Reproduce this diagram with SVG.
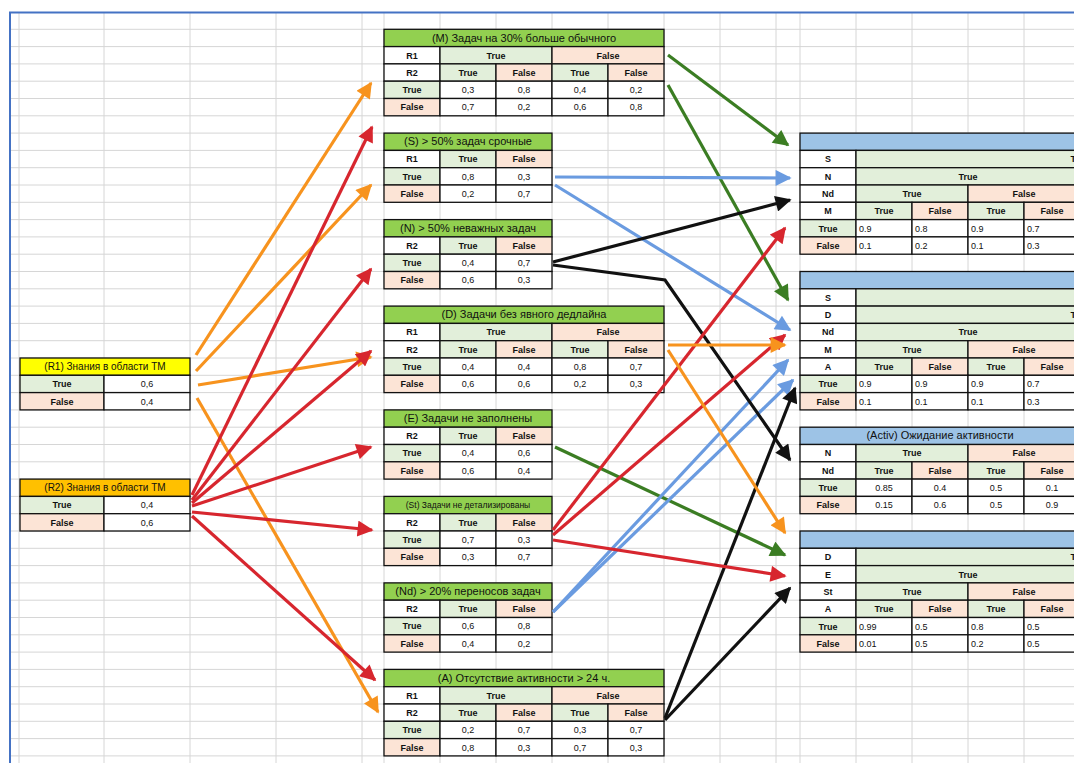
<svg xmlns="http://www.w3.org/2000/svg" width="1074" height="763" viewBox="0 0 1074 763">
<style>
text{font-family:"Liberation Sans","DejaVu Sans",sans-serif;fill:#111}
.c rect{stroke:#111;stroke-width:1.3}
.t{fill:#92d050}.w{fill:#fff}.g{fill:#e2efda}.p{fill:#fce4d6}.y{fill:#ffff00}.o{fill:#ffc000}.b{fill:#9dc3e6}
.ttl{font-size:10px;text-anchor:middle}
.tm{font-size:11px;text-anchor:middle}
.h{font-size:9px;font-weight:bold;text-anchor:middle}
.v{font-size:9px;text-anchor:middle}
.l{font-size:9px;text-anchor:start}
.grid line{stroke:#d6d6d6;stroke-width:1}
#links line,#links polyline{stroke-width:3.2;fill:none}
.ko{stroke:#f7931e}.kr{stroke:#d7262e}.kg{stroke:#3b7d23}.kb{stroke:#6a9be0}.kk{stroke:#111}
</style>
<defs>
<marker id="mo" viewBox="0 0 10 10" refX="9" refY="5" markerWidth="5.5" markerHeight="5" markerUnits="strokeWidth" orient="auto"><path d="M0,0L10,5L0,10z" fill="#f7931e"/></marker>
<marker id="mr" viewBox="0 0 10 10" refX="9" refY="5" markerWidth="5.5" markerHeight="5" markerUnits="strokeWidth" orient="auto"><path d="M0,0L10,5L0,10z" fill="#d7262e"/></marker>
<marker id="mg" viewBox="0 0 10 10" refX="9" refY="5" markerWidth="5.5" markerHeight="5" markerUnits="strokeWidth" orient="auto"><path d="M0,0L10,5L0,10z" fill="#3b7d23"/></marker>
<marker id="mb" viewBox="0 0 10 10" refX="9" refY="5" markerWidth="5.5" markerHeight="5" markerUnits="strokeWidth" orient="auto"><path d="M0,0L10,5L0,10z" fill="#6a9be0"/></marker>
<marker id="mk" viewBox="0 0 10 10" refX="9" refY="5" markerWidth="5.5" markerHeight="5" markerUnits="strokeWidth" orient="auto"><path d="M0,0L10,5L0,10z" fill="#111"/></marker>
</defs>
<rect x="0" y="0" width="1074" height="763" fill="#fff"/>
<!-- sheet grid -->
<g class="grid">
<line x1="19" y1="12" x2="19" y2="763"/><line x1="104" y1="12" x2="104" y2="763"/><line x1="190" y1="12" x2="190" y2="763"/><line x1="276" y1="12" x2="276" y2="763"/><line x1="362" y1="12" x2="362" y2="763"/><line x1="384" y1="12" x2="384" y2="763"/><line x1="440" y1="12" x2="440" y2="763"/><line x1="496" y1="12" x2="496" y2="763"/><line x1="552" y1="12" x2="552" y2="763"/><line x1="608" y1="12" x2="608" y2="763"/><line x1="664" y1="12" x2="664" y2="763"/><line x1="720" y1="12" x2="720" y2="763"/><line x1="776" y1="12" x2="776" y2="763"/><line x1="800" y1="12" x2="800" y2="763"/><line x1="856" y1="12" x2="856" y2="763"/><line x1="912" y1="12" x2="912" y2="763"/><line x1="968" y1="12" x2="968" y2="763"/><line x1="1024" y1="12" x2="1024" y2="763"/>
<line x1="10" y1="29.3" x2="1074" y2="29.3"/><line x1="10" y1="46.6" x2="1074" y2="46.6"/><line x1="10" y1="63.9" x2="1074" y2="63.9"/><line x1="10" y1="81.2" x2="1074" y2="81.2"/><line x1="10" y1="98.5" x2="1074" y2="98.5"/><line x1="10" y1="115.8" x2="1074" y2="115.8"/><line x1="10" y1="133.1" x2="1074" y2="133.1"/><line x1="10" y1="150.4" x2="1074" y2="150.4"/><line x1="10" y1="167.7" x2="1074" y2="167.7"/><line x1="10" y1="185" x2="1074" y2="185"/><line x1="10" y1="202.3" x2="1074" y2="202.3"/><line x1="10" y1="219.6" x2="1074" y2="219.6"/><line x1="10" y1="236.9" x2="1074" y2="236.9"/><line x1="10" y1="254.2" x2="1074" y2="254.2"/><line x1="10" y1="271.5" x2="1074" y2="271.5"/><line x1="10" y1="288.8" x2="1074" y2="288.8"/><line x1="10" y1="306.1" x2="1074" y2="306.1"/><line x1="10" y1="323.4" x2="1074" y2="323.4"/><line x1="10" y1="340.7" x2="1074" y2="340.7"/><line x1="10" y1="358" x2="1074" y2="358"/><line x1="10" y1="375.3" x2="1074" y2="375.3"/><line x1="10" y1="392.6" x2="1074" y2="392.6"/><line x1="10" y1="409.9" x2="1074" y2="409.9"/><line x1="10" y1="427.2" x2="1074" y2="427.2"/><line x1="10" y1="444.5" x2="1074" y2="444.5"/><line x1="10" y1="461.8" x2="1074" y2="461.8"/><line x1="10" y1="479.1" x2="1074" y2="479.1"/><line x1="10" y1="496.4" x2="1074" y2="496.4"/><line x1="10" y1="513.7" x2="1074" y2="513.7"/><line x1="10" y1="531" x2="1074" y2="531"/><line x1="10" y1="548.3" x2="1074" y2="548.3"/><line x1="10" y1="565.6" x2="1074" y2="565.6"/><line x1="10" y1="582.9" x2="1074" y2="582.9"/><line x1="10" y1="600.2" x2="1074" y2="600.2"/><line x1="10" y1="617.5" x2="1074" y2="617.5"/><line x1="10" y1="634.8" x2="1074" y2="634.8"/><line x1="10" y1="652.1" x2="1074" y2="652.1"/><line x1="10" y1="669.4" x2="1074" y2="669.4"/><line x1="10" y1="686.7" x2="1074" y2="686.7"/><line x1="10" y1="704" x2="1074" y2="704"/><line x1="10" y1="721.3" x2="1074" y2="721.3"/><line x1="10" y1="738.6" x2="1074" y2="738.6"/><line x1="10" y1="755.9" x2="1074" y2="755.9"/>
</g>
<rect x="10" y="12.5" width="1070" height="760" fill="none" stroke="#4472c4" stroke-width="2"/>

<!-- root nodes -->
<g id="R1" class="c" transform="translate(20,358)">
<rect class="y" x="0" y="0" width="170" height="17.3"/><text class="ttl" x="85" y="12">(R1) Знания в области ТМ</text>
<rect class="g" x="0" y="17.3" width="84" height="17.3"/><text class="h" x="42" y="29.3">True</text>
<rect class="w" x="84" y="17.3" width="86" height="17.3"/><text class="v" x="127" y="29.3">0,6</text>
<rect class="p" x="0" y="34.6" width="84" height="17.3"/><text class="h" x="42" y="46.6">False</text>
<rect class="w" x="84" y="34.6" width="86" height="17.3"/><text class="v" x="127" y="46.6">0,4</text>
</g>
<g id="R2" class="c" transform="translate(20,479.1)">
<rect class="o" x="0" y="0" width="170" height="17.3"/><text class="ttl" x="85" y="12">(R2) Знания в области ТМ</text>
<rect class="g" x="0" y="17.3" width="84" height="17.3"/><text class="h" x="42" y="29.3">True</text>
<rect class="w" x="84" y="17.3" width="86" height="17.3"/><text class="v" x="127" y="29.3">0,4</text>
<rect class="p" x="0" y="34.6" width="84" height="17.3"/><text class="h" x="42" y="46.6">False</text>
<rect class="w" x="84" y="34.6" width="86" height="17.3"/><text class="v" x="127" y="46.6">0,6</text>
</g>

<!-- middle nodes -->
<g id="M" class="c" transform="translate(384,29.3)">
<rect class="t" x="0" y="0" width="280" height="17.3"/><text class="tm" x="140" y="12.3">(M) Задач на 30% больше обычного</text>
<rect class="w" x="0" y="17.3" width="56" height="17.3"/><text class="h" x="28" y="29.3">R1</text>
<rect class="g" x="56" y="17.3" width="112" height="17.3"/><text class="h" x="112" y="29.3">True</text>
<rect class="p" x="168" y="17.3" width="112" height="17.3"/><text class="h" x="224" y="29.3">False</text>
<rect class="w" x="0" y="34.6" width="56" height="17.3"/><text class="h" x="28" y="46.6">R2</text>
<rect class="g" x="56" y="34.6" width="56" height="17.3"/><text class="h" x="84" y="46.6">True</text>
<rect class="p" x="112" y="34.6" width="56" height="17.3"/><text class="h" x="140" y="46.6">False</text>
<rect class="g" x="168" y="34.6" width="56" height="17.3"/><text class="h" x="196" y="46.6">True</text>
<rect class="p" x="224" y="34.6" width="56" height="17.3"/><text class="h" x="252" y="46.6">False</text>
<rect class="g" x="0" y="51.9" width="56" height="17.3"/><text class="h" x="28" y="63.9">True</text>
<rect class="w" x="56" y="51.9" width="56" height="17.3"/><text class="v" x="84" y="63.9">0,3</text>
<rect class="w" x="112" y="51.9" width="56" height="17.3"/><text class="v" x="140" y="63.9">0,8</text>
<rect class="w" x="168" y="51.9" width="56" height="17.3"/><text class="v" x="196" y="63.9">0,4</text>
<rect class="w" x="224" y="51.9" width="56" height="17.3"/><text class="v" x="252" y="63.9">0,2</text>
<rect class="p" x="0" y="69.2" width="56" height="17.3"/><text class="h" x="28" y="81.2">False</text>
<rect class="w" x="56" y="69.2" width="56" height="17.3"/><text class="v" x="84" y="81.2">0,7</text>
<rect class="w" x="112" y="69.2" width="56" height="17.3"/><text class="v" x="140" y="81.2">0,2</text>
<rect class="w" x="168" y="69.2" width="56" height="17.3"/><text class="v" x="196" y="81.2">0,6</text>
<rect class="w" x="224" y="69.2" width="56" height="17.3"/><text class="v" x="252" y="81.2">0,8</text>
</g>
<g id="S" class="c" transform="translate(384,133.1)">
<rect class="t" x="0" y="0" width="168" height="17.3"/><text class="tm" x="84" y="12.3">(S) &gt; 50% задач срочные</text>
<rect class="w" x="0" y="17.3" width="56" height="17.3"/><text class="h" x="28" y="29.3">R1</text>
<rect class="g" x="56" y="17.3" width="56" height="17.3"/><text class="h" x="84" y="29.3">True</text>
<rect class="p" x="112" y="17.3" width="56" height="17.3"/><text class="h" x="140" y="29.3">False</text>
<rect class="g" x="0" y="34.6" width="56" height="17.3"/><text class="h" x="28" y="46.6">True</text>
<rect class="w" x="56" y="34.6" width="56" height="17.3"/><text class="v" x="84" y="46.6">0,8</text>
<rect class="w" x="112" y="34.6" width="56" height="17.3"/><text class="v" x="140" y="46.6">0,3</text>
<rect class="p" x="0" y="51.9" width="56" height="17.3"/><text class="h" x="28" y="63.9">False</text>
<rect class="w" x="56" y="51.9" width="56" height="17.3"/><text class="v" x="84" y="63.9">0,2</text>
<rect class="w" x="112" y="51.9" width="56" height="17.3"/><text class="v" x="140" y="63.9">0,7</text>
</g>
<g id="N" class="c" transform="translate(384,219.6)">
<rect class="t" x="0" y="0" width="168" height="17.3"/><text class="tm" x="84" y="12.3">(N) &gt; 50% неважных задач</text>
<rect class="w" x="0" y="17.3" width="56" height="17.3"/><text class="h" x="28" y="29.3">R2</text>
<rect class="g" x="56" y="17.3" width="56" height="17.3"/><text class="h" x="84" y="29.3">True</text>
<rect class="p" x="112" y="17.3" width="56" height="17.3"/><text class="h" x="140" y="29.3">False</text>
<rect class="g" x="0" y="34.6" width="56" height="17.3"/><text class="h" x="28" y="46.6">True</text>
<rect class="w" x="56" y="34.6" width="56" height="17.3"/><text class="v" x="84" y="46.6">0,4</text>
<rect class="w" x="112" y="34.6" width="56" height="17.3"/><text class="v" x="140" y="46.6">0,7</text>
<rect class="p" x="0" y="51.9" width="56" height="17.3"/><text class="h" x="28" y="63.9">False</text>
<rect class="w" x="56" y="51.9" width="56" height="17.3"/><text class="v" x="84" y="63.9">0,6</text>
<rect class="w" x="112" y="51.9" width="56" height="17.3"/><text class="v" x="140" y="63.9">0,3</text>
</g>
<g id="D" class="c" transform="translate(384,306.1)">
<rect class="t" x="0" y="0" width="280" height="17.3"/><text class="tm" x="140" y="12.3">(D) Задачи без явного дедлайна</text>
<rect class="w" x="0" y="17.3" width="56" height="17.3"/><text class="h" x="28" y="29.3">R1</text>
<rect class="g" x="56" y="17.3" width="112" height="17.3"/><text class="h" x="112" y="29.3">True</text>
<rect class="p" x="168" y="17.3" width="112" height="17.3"/><text class="h" x="224" y="29.3">False</text>
<rect class="w" x="0" y="34.6" width="56" height="17.3"/><text class="h" x="28" y="46.6">R2</text>
<rect class="g" x="56" y="34.6" width="56" height="17.3"/><text class="h" x="84" y="46.6">True</text>
<rect class="p" x="112" y="34.6" width="56" height="17.3"/><text class="h" x="140" y="46.6">False</text>
<rect class="g" x="168" y="34.6" width="56" height="17.3"/><text class="h" x="196" y="46.6">True</text>
<rect class="p" x="224" y="34.6" width="56" height="17.3"/><text class="h" x="252" y="46.6">False</text>
<rect class="g" x="0" y="51.9" width="56" height="17.3"/><text class="h" x="28" y="63.9">True</text>
<rect class="w" x="56" y="51.9" width="56" height="17.3"/><text class="v" x="84" y="63.9">0,4</text>
<rect class="w" x="112" y="51.9" width="56" height="17.3"/><text class="v" x="140" y="63.9">0,4</text>
<rect class="w" x="168" y="51.9" width="56" height="17.3"/><text class="v" x="196" y="63.9">0,8</text>
<rect class="w" x="224" y="51.9" width="56" height="17.3"/><text class="v" x="252" y="63.9">0,7</text>
<rect class="p" x="0" y="69.2" width="56" height="17.3"/><text class="h" x="28" y="81.2">False</text>
<rect class="w" x="56" y="69.2" width="56" height="17.3"/><text class="v" x="84" y="81.2">0,6</text>
<rect class="w" x="112" y="69.2" width="56" height="17.3"/><text class="v" x="140" y="81.2">0,6</text>
<rect class="w" x="168" y="69.2" width="56" height="17.3"/><text class="v" x="196" y="81.2">0,2</text>
<rect class="w" x="224" y="69.2" width="56" height="17.3"/><text class="v" x="252" y="81.2">0,3</text>
</g>
<g id="E" class="c" transform="translate(384,409.9)">
<rect class="t" x="0" y="0" width="168" height="17.3"/><text class="tm" x="84" y="12.3">(E) Задачи не заполнены</text>
<rect class="w" x="0" y="17.3" width="56" height="17.3"/><text class="h" x="28" y="29.3">R2</text>
<rect class="g" x="56" y="17.3" width="56" height="17.3"/><text class="h" x="84" y="29.3">True</text>
<rect class="p" x="112" y="17.3" width="56" height="17.3"/><text class="h" x="140" y="29.3">False</text>
<rect class="g" x="0" y="34.6" width="56" height="17.3"/><text class="h" x="28" y="46.6">True</text>
<rect class="w" x="56" y="34.6" width="56" height="17.3"/><text class="v" x="84" y="46.6">0,4</text>
<rect class="w" x="112" y="34.6" width="56" height="17.3"/><text class="v" x="140" y="46.6">0,6</text>
<rect class="p" x="0" y="51.9" width="56" height="17.3"/><text class="h" x="28" y="63.9">False</text>
<rect class="w" x="56" y="51.9" width="56" height="17.3"/><text class="v" x="84" y="63.9">0,6</text>
<rect class="w" x="112" y="51.9" width="56" height="17.3"/><text class="v" x="140" y="63.9">0,4</text>
</g>
<g id="St" class="c" transform="translate(384,496.4)">
<rect class="t" x="0" y="0" width="168" height="17.3"/><text class="ttl" x="84" y="12" style="font-size:8.5px">(St) Задачи не детализированы</text>
<rect class="w" x="0" y="17.3" width="56" height="17.3"/><text class="h" x="28" y="29.3">R2</text>
<rect class="g" x="56" y="17.3" width="56" height="17.3"/><text class="h" x="84" y="29.3">True</text>
<rect class="p" x="112" y="17.3" width="56" height="17.3"/><text class="h" x="140" y="29.3">False</text>
<rect class="g" x="0" y="34.6" width="56" height="17.3"/><text class="h" x="28" y="46.6">True</text>
<rect class="w" x="56" y="34.6" width="56" height="17.3"/><text class="v" x="84" y="46.6">0,7</text>
<rect class="w" x="112" y="34.6" width="56" height="17.3"/><text class="v" x="140" y="46.6">0,3</text>
<rect class="p" x="0" y="51.9" width="56" height="17.3"/><text class="h" x="28" y="63.9">False</text>
<rect class="w" x="56" y="51.9" width="56" height="17.3"/><text class="v" x="84" y="63.9">0,3</text>
<rect class="w" x="112" y="51.9" width="56" height="17.3"/><text class="v" x="140" y="63.9">0,7</text>
</g>
<g id="Nd" class="c" transform="translate(384,582.9)">
<rect class="t" x="0" y="0" width="168" height="17.3"/><text class="tm" x="84" y="12.3">(Nd) &gt; 20% переносов задач</text>
<rect class="w" x="0" y="17.3" width="56" height="17.3"/><text class="h" x="28" y="29.3">R2</text>
<rect class="g" x="56" y="17.3" width="56" height="17.3"/><text class="h" x="84" y="29.3">True</text>
<rect class="p" x="112" y="17.3" width="56" height="17.3"/><text class="h" x="140" y="29.3">False</text>
<rect class="g" x="0" y="34.6" width="56" height="17.3"/><text class="h" x="28" y="46.6">True</text>
<rect class="w" x="56" y="34.6" width="56" height="17.3"/><text class="v" x="84" y="46.6">0,6</text>
<rect class="w" x="112" y="34.6" width="56" height="17.3"/><text class="v" x="140" y="46.6">0,8</text>
<rect class="p" x="0" y="51.9" width="56" height="17.3"/><text class="h" x="28" y="63.9">False</text>
<rect class="w" x="56" y="51.9" width="56" height="17.3"/><text class="v" x="84" y="63.9">0,4</text>
<rect class="w" x="112" y="51.9" width="56" height="17.3"/><text class="v" x="140" y="63.9">0,2</text>
</g>
<g id="A" class="c" transform="translate(384,669.4)">
<rect class="t" x="0" y="0" width="280" height="17.3"/><text class="tm" x="140" y="12.3">(A) Отсутствие активности &gt; 24 ч.</text>
<rect class="w" x="0" y="17.3" width="56" height="17.3"/><text class="h" x="28" y="29.3">R1</text>
<rect class="g" x="56" y="17.3" width="112" height="17.3"/><text class="h" x="112" y="29.3">True</text>
<rect class="p" x="168" y="17.3" width="112" height="17.3"/><text class="h" x="224" y="29.3">False</text>
<rect class="w" x="0" y="34.6" width="56" height="17.3"/><text class="h" x="28" y="46.6">R2</text>
<rect class="g" x="56" y="34.6" width="56" height="17.3"/><text class="h" x="84" y="46.6">True</text>
<rect class="p" x="112" y="34.6" width="56" height="17.3"/><text class="h" x="140" y="46.6">False</text>
<rect class="g" x="168" y="34.6" width="56" height="17.3"/><text class="h" x="196" y="46.6">True</text>
<rect class="p" x="224" y="34.6" width="56" height="17.3"/><text class="h" x="252" y="46.6">False</text>
<rect class="g" x="0" y="51.9" width="56" height="17.3"/><text class="h" x="28" y="63.9">True</text>
<rect class="w" x="56" y="51.9" width="56" height="17.3"/><text class="v" x="84" y="63.9">0,2</text>
<rect class="w" x="112" y="51.9" width="56" height="17.3"/><text class="v" x="140" y="63.9">0,7</text>
<rect class="w" x="168" y="51.9" width="56" height="17.3"/><text class="v" x="196" y="63.9">0,3</text>
<rect class="w" x="224" y="51.9" width="56" height="17.3"/><text class="v" x="252" y="63.9">0,7</text>
<rect class="p" x="0" y="69.2" width="56" height="17.3"/><text class="h" x="28" y="81.2">False</text>
<rect class="w" x="56" y="69.2" width="56" height="17.3"/><text class="v" x="84" y="81.2">0,8</text>
<rect class="w" x="112" y="69.2" width="56" height="17.3"/><text class="v" x="140" y="81.2">0,3</text>
<rect class="w" x="168" y="69.2" width="56" height="17.3"/><text class="v" x="196" y="81.2">0,7</text>
<rect class="w" x="224" y="69.2" width="56" height="17.3"/><text class="v" x="252" y="81.2">0,3</text>
</g>

<!-- right-hand nodes -->
<g id="P1" class="c" transform="translate(800,133.1)">
<rect class="b" x="0" y="0" width="290" height="17.3"/>
<rect class="w" x="0" y="17.3" width="56" height="17.3"/><text class="h" x="28" y="29.3">S</text>
<rect class="g" x="56" y="17.3" width="234" height="17.3"/><text class="h" x="280" y="29.3">True</text>
<rect class="w" x="0" y="34.6" width="56" height="17.3"/><text class="h" x="28" y="46.6">N</text>
<rect class="g" x="56" y="34.6" width="234" height="17.3"/><text class="h" x="168" y="46.6">True</text>
<rect class="w" x="0" y="51.9" width="56" height="17.3"/><text class="h" x="28" y="63.9">Nd</text>
<rect class="g" x="56" y="51.9" width="112" height="17.3"/><text class="h" x="112" y="63.9">True</text>
<rect class="p" x="168" y="51.9" width="122" height="17.3"/><text class="h" x="224" y="63.9">False</text>
<rect class="w" x="0" y="69.2" width="56" height="17.3"/><text class="h" x="28" y="81.2">M</text>
<rect class="g" x="56" y="69.2" width="56" height="17.3"/><text class="h" x="84" y="81.2">True</text>
<rect class="p" x="112" y="69.2" width="56" height="17.3"/><text class="h" x="140" y="81.2">False</text>
<rect class="g" x="168" y="69.2" width="56" height="17.3"/><text class="h" x="196" y="81.2">True</text>
<rect class="p" x="224" y="69.2" width="56" height="17.3"/><text class="h" x="252" y="81.2">False</text>
<rect class="g" x="0" y="86.5" width="56" height="17.3"/><text class="h" x="28" y="98.5">True</text>
<rect class="w" x="56" y="86.5" width="56" height="17.3"/><text class="l" x="59" y="98.5">0.9</text>
<rect class="w" x="112" y="86.5" width="56" height="17.3"/><text class="l" x="115" y="98.5">0.8</text>
<rect class="w" x="168" y="86.5" width="56" height="17.3"/><text class="l" x="171" y="98.5">0.9</text>
<rect class="w" x="224" y="86.5" width="56" height="17.3"/><text class="l" x="227" y="98.5">0.7</text>
<rect class="p" x="0" y="103.8" width="56" height="17.3"/><text class="h" x="28" y="115.8">False</text>
<rect class="w" x="56" y="103.8" width="56" height="17.3"/><text class="l" x="59" y="115.8">0.1</text>
<rect class="w" x="112" y="103.8" width="56" height="17.3"/><text class="l" x="115" y="115.8">0.2</text>
<rect class="w" x="168" y="103.8" width="56" height="17.3"/><text class="l" x="171" y="115.8">0.1</text>
<rect class="w" x="224" y="103.8" width="56" height="17.3"/><text class="l" x="227" y="115.8">0.3</text>
</g>
<g id="P2" class="c" transform="translate(800,271.5)">
<rect class="b" x="0" y="0" width="290" height="17.3"/>
<rect class="w" x="0" y="17.3" width="56" height="17.3"/><text class="h" x="28" y="29.3">S</text>
<rect class="g" x="56" y="17.3" width="234" height="17.3"/>
<rect class="w" x="0" y="34.6" width="56" height="17.3"/><text class="h" x="28" y="46.6">D</text>
<rect class="g" x="56" y="34.6" width="234" height="17.3"/><text class="h" x="280" y="46.6">True</text>
<rect class="w" x="0" y="51.9" width="56" height="17.3"/><text class="h" x="28" y="63.9">Nd</text>
<rect class="g" x="56" y="51.9" width="234" height="17.3"/><text class="h" x="168" y="63.9">True</text>
<rect class="w" x="0" y="69.2" width="56" height="17.3"/><text class="h" x="28" y="81.2">M</text>
<rect class="g" x="56" y="69.2" width="112" height="17.3"/><text class="h" x="112" y="81.2">True</text>
<rect class="p" x="168" y="69.2" width="122" height="17.3"/><text class="h" x="224" y="81.2">False</text>
<rect class="w" x="0" y="86.5" width="56" height="17.3"/><text class="h" x="28" y="98.5">A</text>
<rect class="g" x="56" y="86.5" width="56" height="17.3"/><text class="h" x="84" y="98.5">True</text>
<rect class="p" x="112" y="86.5" width="56" height="17.3"/><text class="h" x="140" y="98.5">False</text>
<rect class="g" x="168" y="86.5" width="56" height="17.3"/><text class="h" x="196" y="98.5">True</text>
<rect class="p" x="224" y="86.5" width="56" height="17.3"/><text class="h" x="252" y="98.5">False</text>
<rect class="g" x="0" y="103.8" width="56" height="17.3"/><text class="h" x="28" y="115.8">True</text>
<rect class="w" x="56" y="103.8" width="56" height="17.3"/><text class="l" x="59" y="115.8">0.9</text>
<rect class="w" x="112" y="103.8" width="56" height="17.3"/><text class="l" x="115" y="115.8">0.9</text>
<rect class="w" x="168" y="103.8" width="56" height="17.3"/><text class="l" x="171" y="115.8">0.9</text>
<rect class="w" x="224" y="103.8" width="56" height="17.3"/><text class="l" x="227" y="115.8">0.7</text>
<rect class="p" x="0" y="121.1" width="56" height="17.3"/><text class="h" x="28" y="133.1">False</text>
<rect class="w" x="56" y="121.1" width="56" height="17.3"/><text class="l" x="59" y="133.1">0.1</text>
<rect class="w" x="112" y="121.1" width="56" height="17.3"/><text class="l" x="115" y="133.1">0.1</text>
<rect class="w" x="168" y="121.1" width="56" height="17.3"/><text class="l" x="171" y="133.1">0.1</text>
<rect class="w" x="224" y="121.1" width="56" height="17.3"/><text class="l" x="227" y="133.1">0.3</text>
</g>
<g id="Activ" class="c" transform="translate(800,427.2)">
<rect class="b" x="0" y="0" width="290" height="17.3"/><text class="tm" x="140" y="12.3">(Activ) Ожидание активности</text>
<rect class="w" x="0" y="17.3" width="56" height="17.3"/><text class="h" x="28" y="29.3">N</text>
<rect class="g" x="56" y="17.3" width="112" height="17.3"/><text class="h" x="112" y="29.3">True</text>
<rect class="p" x="168" y="17.3" width="122" height="17.3"/><text class="h" x="224" y="29.3">False</text>
<rect class="w" x="0" y="34.6" width="56" height="17.3"/><text class="h" x="28" y="46.6">Nd</text>
<rect class="g" x="56" y="34.6" width="56" height="17.3"/><text class="h" x="84" y="46.6">True</text>
<rect class="p" x="112" y="34.6" width="56" height="17.3"/><text class="h" x="140" y="46.6">False</text>
<rect class="g" x="168" y="34.6" width="56" height="17.3"/><text class="h" x="196" y="46.6">True</text>
<rect class="p" x="224" y="34.6" width="56" height="17.3"/><text class="h" x="252" y="46.6">False</text>
<rect class="g" x="0" y="51.9" width="56" height="17.3"/><text class="h" x="28" y="63.9">True</text>
<rect class="w" x="56" y="51.9" width="56" height="17.3"/><text class="v" x="84" y="63.9">0.85</text>
<rect class="w" x="112" y="51.9" width="56" height="17.3"/><text class="v" x="140" y="63.9">0.4</text>
<rect class="w" x="168" y="51.9" width="56" height="17.3"/><text class="v" x="196" y="63.9">0.5</text>
<rect class="w" x="224" y="51.9" width="56" height="17.3"/><text class="v" x="252" y="63.9">0.1</text>
<rect class="p" x="0" y="69.2" width="56" height="17.3"/><text class="h" x="28" y="81.2">False</text>
<rect class="w" x="56" y="69.2" width="56" height="17.3"/><text class="v" x="84" y="81.2">0.15</text>
<rect class="w" x="112" y="69.2" width="56" height="17.3"/><text class="v" x="140" y="81.2">0.6</text>
<rect class="w" x="168" y="69.2" width="56" height="17.3"/><text class="v" x="196" y="81.2">0.5</text>
<rect class="w" x="224" y="69.2" width="56" height="17.3"/><text class="v" x="252" y="81.2">0.9</text>
</g>
<g id="P4" class="c" transform="translate(800,531)">
<rect class="b" x="0" y="0" width="290" height="17.3"/>
<rect class="w" x="0" y="17.3" width="56" height="17.3"/><text class="h" x="28" y="29.3">D</text>
<rect class="g" x="56" y="17.3" width="234" height="17.3"/><text class="h" x="280" y="29.3">True</text>
<rect class="w" x="0" y="34.6" width="56" height="17.3"/><text class="h" x="28" y="46.6">E</text>
<rect class="g" x="56" y="34.6" width="234" height="17.3"/><text class="h" x="168" y="46.6">True</text>
<rect class="w" x="0" y="51.9" width="56" height="17.3"/><text class="h" x="28" y="63.9">St</text>
<rect class="g" x="56" y="51.9" width="112" height="17.3"/><text class="h" x="112" y="63.9">True</text>
<rect class="p" x="168" y="51.9" width="122" height="17.3"/><text class="h" x="224" y="63.9">False</text>
<rect class="w" x="0" y="69.2" width="56" height="17.3"/><text class="h" x="28" y="81.2">A</text>
<rect class="g" x="56" y="69.2" width="56" height="17.3"/><text class="h" x="84" y="81.2">True</text>
<rect class="p" x="112" y="69.2" width="56" height="17.3"/><text class="h" x="140" y="81.2">False</text>
<rect class="g" x="168" y="69.2" width="56" height="17.3"/><text class="h" x="196" y="81.2">True</text>
<rect class="p" x="224" y="69.2" width="56" height="17.3"/><text class="h" x="252" y="81.2">False</text>
<rect class="g" x="0" y="86.5" width="56" height="17.3"/><text class="h" x="28" y="98.5">True</text>
<rect class="w" x="56" y="86.5" width="56" height="17.3"/><text class="l" x="59" y="98.5">0.99</text>
<rect class="w" x="112" y="86.5" width="56" height="17.3"/><text class="l" x="115" y="98.5">0.5</text>
<rect class="w" x="168" y="86.5" width="56" height="17.3"/><text class="l" x="171" y="98.5">0.8</text>
<rect class="w" x="224" y="86.5" width="56" height="17.3"/><text class="l" x="227" y="98.5">0.5</text>
<rect class="p" x="0" y="103.8" width="56" height="17.3"/><text class="h" x="28" y="115.8">False</text>
<rect class="w" x="56" y="103.8" width="56" height="17.3"/><text class="l" x="59" y="115.8">0.01</text>
<rect class="w" x="112" y="103.8" width="56" height="17.3"/><text class="l" x="115" y="115.8">0.5</text>
<rect class="w" x="168" y="103.8" width="56" height="17.3"/><text class="l" x="171" y="115.8">0.2</text>
<rect class="w" x="224" y="103.8" width="56" height="17.3"/><text class="l" x="227" y="115.8">0.5</text>
</g>

<!-- connectors -->
<g id="links">
<line class="ko" x1="196" y1="355" x2="371" y2="83" marker-end="url(#mo)"/>
<line class="ko" x1="196" y1="371" x2="371" y2="185" marker-end="url(#mo)"/>
<line class="ko" x1="198" y1="385" x2="371" y2="357" marker-end="url(#mo)"/>
<line class="ko" x1="197" y1="398" x2="378" y2="712" marker-end="url(#mo)"/>
<line class="kr" x1="192" y1="495" x2="372" y2="127" marker-end="url(#mr)"/>
<line class="kr" x1="192" y1="500" x2="371" y2="269" marker-end="url(#mr)"/>
<line class="kr" x1="192" y1="503" x2="371" y2="351" marker-end="url(#mr)"/>
<line class="kr" x1="192" y1="506" x2="371" y2="447" marker-end="url(#mr)"/>
<line class="kr" x1="192" y1="512" x2="372" y2="530" marker-end="url(#mr)"/>
<line class="kr" x1="192" y1="516" x2="375" y2="680" marker-end="url(#mr)"/>
<line class="kg" x1="668" y1="55" x2="788" y2="145" marker-end="url(#mg)"/>
<line class="kg" x1="668" y1="85" x2="788" y2="300" marker-end="url(#mg)"/>
<line class="kg" x1="555" y1="447" x2="785" y2="555" marker-end="url(#mg)"/>
<line class="kb" x1="555" y1="177" x2="790" y2="178" marker-end="url(#mb)"/>
<line class="kb" x1="555" y1="185" x2="790" y2="330" marker-end="url(#mb)"/>
<line class="kb" x1="553" y1="612" x2="788" y2="360" marker-end="url(#mb)"/>
<line class="kb" x1="553" y1="612" x2="793" y2="380" marker-end="url(#mb)"/>
<line class="kk" x1="553" y1="262" x2="790" y2="200" marker-end="url(#mk)"/>
<polyline class="kk" points="553,265 665,280 790,460" marker-end="url(#mk)"/>
<line class="kk" x1="665" y1="718" x2="795" y2="388" marker-end="url(#mk)"/>
<line class="kk" x1="665" y1="720" x2="790" y2="588" marker-end="url(#mk)"/>
<line class="kr" x1="553" y1="530" x2="785" y2="228" marker-end="url(#mr)"/>
<line class="kr" x1="553" y1="535" x2="785" y2="335" marker-end="url(#mr)"/>
<line class="kr" x1="553" y1="540" x2="785" y2="576" marker-end="url(#mr)"/>
<line class="ko" x1="668" y1="345" x2="785" y2="345" marker-end="url(#mo)"/>
<line class="ko" x1="668" y1="350" x2="785" y2="533" marker-end="url(#mo)"/>
</g>
</svg>
